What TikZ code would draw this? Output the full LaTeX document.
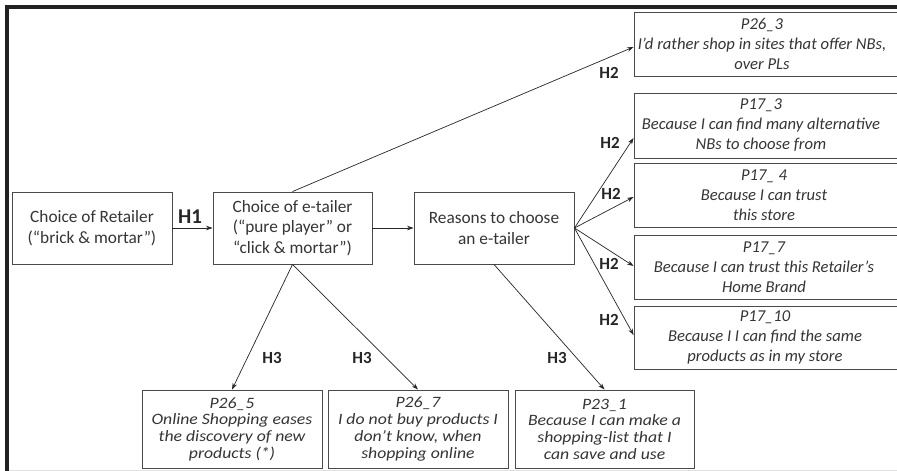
\documentclass[tikz,border=0pt]{standalone}
\usepackage{fontspec}
\setmainfont{Carlito}
\newfontfamily\widefont[FakeStretch=1.12]{Carlito}
\usetikzlibrary{arrows.meta,calc}
\definecolor{ink}{HTML}{353535}
\definecolor{edge}{HTML}{4A4A4A}
\definecolor{frame}{HTML}{222222}
\begin{document}
\begin{tikzpicture}[x=1pt,y=-1pt,
  box/.style={draw=edge, line width=0.9pt, text=ink, align=center, inner sep=0pt,
    minimum height=72pt, font=\fontsize{17.3}{20.7}\selectfont},
  rbox/.style={draw=edge, line width=0.9pt, inner sep=0pt, minimum width=271pt},
  item/.style={text=ink, align=center, inner sep=0pt, font=\fontsize{16.6}{20}\selectfont\itshape},
  low/.style={draw=edge, line width=0.9pt, text=ink, align=center, inner sep=0pt,
    minimum width=180pt, minimum height=78pt, font=\widefont\fontsize{15.8}{16.7}\selectfont\itshape},
  link/.style={draw=black!85, line width=0.7pt, -{Stealth[length=6.5pt,width=4.5pt]}},
  hyp/.style={text=black!85, font=\fontsize{17}{17}\selectfont\bfseries, inner sep=0pt},
]
\useasboundingbox (0,0) rectangle (897,471);
\fill[white] (0,0) rectangle (897,471);
% outer frame (top and left edges)
\fill[frame] (5,5) rectangle (897,9);
\fill[frame] (5,5) rectangle (8.5,471);
\fill[black!12] (8.5,469.5) rectangle (897,471);

% main chain
\node[box, minimum width=160pt] (ret) at (92,228) {Choice of Retailer\\(“brick \& mortar”)};
\node[box, minimum width=159pt] (etl) at (292.5,228) {Choice of e-tailer\\(“pure player” or\\“click \& mortar”)};
\node[box, minimum width=160pt] (rsn) at (494,228) {Reasons to choose\\an e-tailer};

% right-hand items
\node[rbox, minimum height=64pt] (p263) at (769.5,44) {};
\node[item] (t263) at (762,44) {P26\_3\\I’d rather shop in sites that offer NBs,\\over PLs};
\node[rbox, minimum height=65pt] (p173) at (769.5,125.5) {};
\node[item] (t173) at (761,125.5) {P17\_3\\Because I can find many alternative\\NBs to choose from};
\node[rbox, minimum height=64pt] (p174) at (769.5,195) {};
\node[item] (t174) at (764,195) {P17\_ 4\\Because I can trust\\this store};
\node[rbox, minimum height=64pt] (p177) at (769.5,267) {};
\node[item] (t177) at (764,267) {P17\_7\\Because I can trust this Retailer’s\\Home Brand};
\node[rbox, minimum height=63pt] (p1710) at (769.5,337.5) {};
\node[item] (t1710) at (765,337.5) {P17\_10\\Because I I can find the same\\products as in my store};

% bottom items
\node[low] (p265) at (232,429) {P26\_5\\Online Shopping eases\\the discovery of new\\products (*)};
\node[low] (p267) at (418,429) {P26\_7\\I do not buy products I\\don’t know, when\\shopping online};
\node[low, minimum width=179pt] (p231) at (604.5,429) {P23\_1\\Because I can make a\\shopping-list that I\\can save and use};

% connectors
\draw[link] (ret.east) -- (etl.west);
\draw[link] (etl.east) -- (rsn.west);
\draw[link] (etl.north) -- ($(p263.west)+(0,3)$);
\draw[link] (rsn.east) -- ($(p173.west)+(0,12.5)$);
\draw[link] (rsn.east) -- ($(p174.west)+(0,2)$);
\draw[link] (rsn.east) -- ($(p177.west)+(0,-1)$);
\draw[link] (rsn.east) -- ($(p1710.west)+(0,-2.5)$);
\draw[link] (etl.south) -- (p265.north);
\draw[link] (etl.south) -- (p267.north);
\draw[link] (rsn.south) -- (p231.north);

% hypothesis labels
\node[hyp, font=\fontsize{21}{21}\selectfont\bfseries] (h1) at (190,217) {H1};
\node[hyp] (h2a) at (609,73) {H2};
\node[hyp] (h2b) at (610,143) {H2};
\node[hyp] (h2c) at (611,194) {H2};
\node[hyp] (h2d) at (609,264) {H2};
\node[hyp] (h2e) at (609,320) {H2};
\node[hyp] (h3a) at (272,358) {H3};
\node[hyp] (h3b) at (362,358) {H3};
\node[hyp] (h3c) at (557,358) {H3};
\end{tikzpicture}
\end{document}
